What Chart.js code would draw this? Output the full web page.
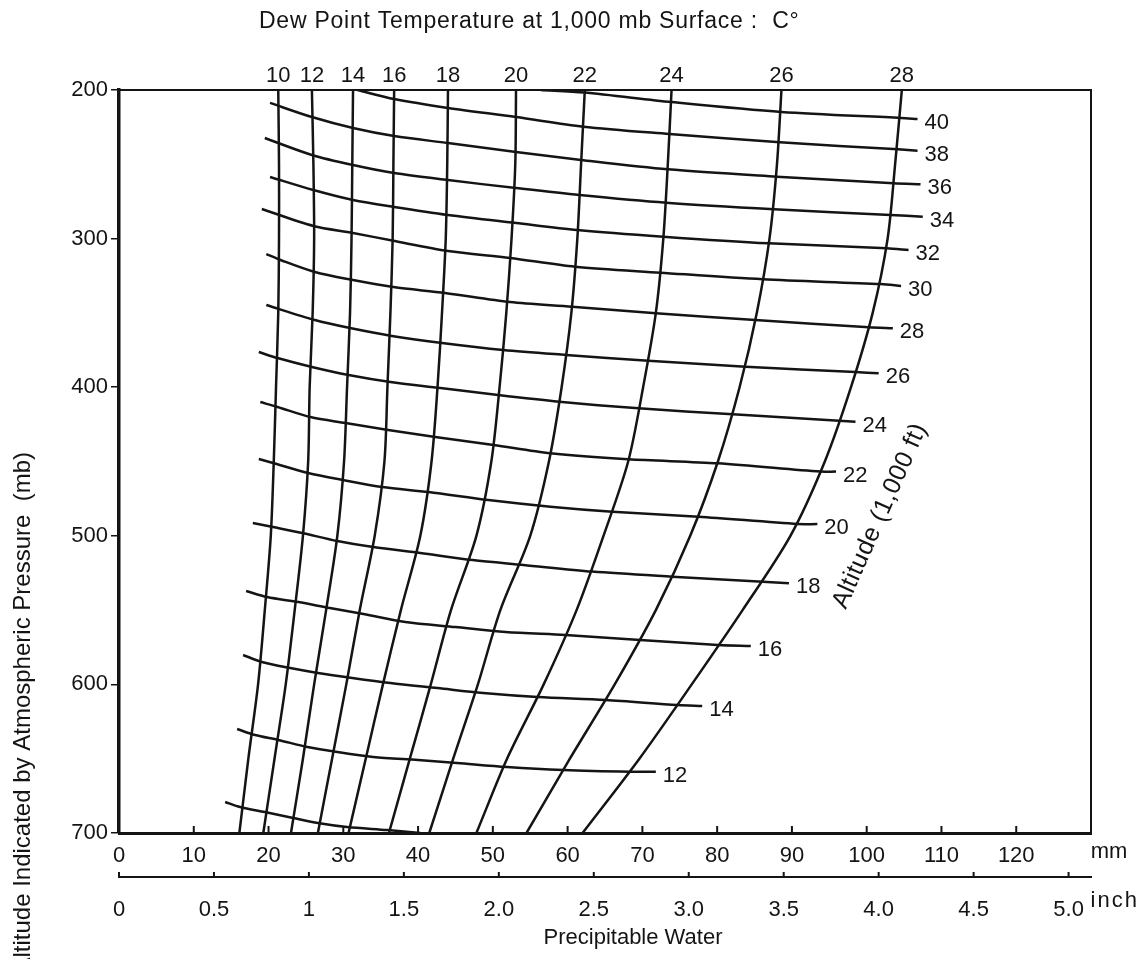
<!DOCTYPE html>
<html>
<head>
<meta charset="utf-8">
<title>Precipitable Water</title>
<script src="https://cdn.jsdelivr.net/npm/chart.js@4.4.1/dist/chart.umd.min.js"></script>
<style>
  html, body { margin: 0; padding: 0; background: #fff; }
</style>
</head>
<body>
<canvas id="myChart" width="1143" height="959"></canvas>
<script>
'use strict';
const ink = '#141414';
const fontFamily = "'Liberation Sans', Arial, sans-serif";

// dew point lines: precipitable water (mm) read at each pressure level (mb)
let dewLevels = [200, 250, 300, 350, 400, 450, 500, 550, 600, 650, 700];
let dewTemps = [10, 12, 14, 16, 18, 20, 22, 24, 26, 28];
let dew10 = [21.3, 21.4, 21.4, 21.3, 21.0, 20.7, 20.3, 19.5, 18.6, 17.3, 16.1];
let dew12 = [25.8, 26.0, 26.1, 25.9, 25.5, 25.3, 24.6, 23.5, 22.3, 20.8, 19.3];
let dew14 = [31.3, 31.2, 31.1, 30.9, 30.5, 30.1, 29.2, 27.7, 26.1, 24.6, 23.0];
let dew16 = [36.8, 36.7, 36.6, 36.3, 35.9, 35.5, 34.2, 32.2, 30.4, 28.5, 26.6];
let dew18 = [44.0, 43.9, 43.7, 43.2, 42.6, 41.8, 40.3, 37.7, 35.3, 33.0, 30.7];
let dew20 = [53.1, 53.0, 52.5, 51.8, 50.9, 49.8, 47.8, 44.4, 41.7, 38.9, 36.1];
let dew22 = [62.3, 61.8, 61.3, 60.5, 59.2, 57.5, 55.0, 51.0, 48.0, 44.7, 41.5];
let dew24 = [73.9, 73.4, 72.8, 71.8, 70.1, 68.1, 64.8, 61.2, 56.8, 51.9, 47.8];
let dew26 = [88.6, 88.0, 87.0, 85.3, 83.0, 80.1, 76.4, 71.8, 66.3, 60.3, 54.5];
let dew28 = [104.7, 103.8, 102.8, 100.8, 97.9, 94.4, 89.8, 83.4, 76.6, 69.6, 62.0];
let dewLines = [dew10, dew12, dew14, dew16, dew18, dew20, dew22, dew24, dew26, dew28];

// altitude lines (1,000 ft): [mm, mb] points
let altFeet = [10, 12, 14, 16, 18, 20, 22, 24, 26, 28, 30, 32, 34, 36, 38, 40];
let alt10 = [[14.2, 679.1], [16.2, 682.5], [19.5, 685.9], [23.3, 689.9], [26.6, 693.3], [30.5, 696.0], [35.9, 698.0], [40.3, 700]];
let alt12 = [[15.8, 630.0], [18.2, 634.1], [21.3, 637.4], [25.2, 642.1], [29.2, 645.5], [34.0, 648.8], [40.0, 650.9], [45.2, 652.9], [51.9, 655.6], [59.4, 657.6], [68.4, 658.8], [71.8, 658.8]];
let alt14 = [[16.6, 580.2], [19.1, 584.9], [22.9, 589.0], [26.6, 592.3], [31.2, 595.7], [36.3, 599.1], [42.6, 602.5], [48.7, 605.8], [56.0, 608.5], [65.1, 610.5], [74.7, 613.9], [78.0, 614.5]];
let alt16 = [[17.0, 537.1], [19.8, 541.2], [24.0, 544.6], [28.2, 548.6], [32.7, 552.6], [38.3, 558.0], [45.0, 561.4], [51.7, 564.7], [59.7, 566.8], [69.7, 570.1], [80.1, 573.5], [84.5, 574.2]];
let alt18 = [[17.9, 491.4], [20.6, 494.1], [24.5, 498.1], [29.2, 503.5], [34.0, 507.6], [40.3, 511.6], [47.3, 516.3], [54.1, 519.6], [63.3, 524.1], [74.0, 527.5], [86.1, 530.9], [89.6, 532.0]];
let alt20 = [[18.7, 448.3], [20.6, 451.0], [25.3, 457.7], [29.9, 462.4], [35.2, 467.2], [41.4, 470.5], [49.4, 475.9], [57.7, 480.4], [66.0, 483.8], [77.5, 487.1], [90.8, 492.1], [93.4, 492.1]];
let alt22 = [[18.9, 410.0], [21.2, 413.3], [25.6, 420.1], [30.3, 424.1], [36.0, 428.8], [42.3, 433.5], [50.1, 438.9], [57.7, 444.5], [68.1, 448.5], [80.1, 451.2], [93.8, 456.8], [95.9, 456.8]];
let alt24 = [[18.7, 376.3], [21.2, 380.4], [25.8, 386.4], [30.7, 391.8], [36.3, 396.5], [43.0, 400.5], [50.7, 405.3], [58.9, 409.8], [69.5, 414.2], [82.1, 418.2], [96.3, 422.5], [98.5, 423.2]];
let alt26 = [[19.7, 344.7], [26.2, 354.8], [30.9, 360.2], [36.5, 365.5], [43.2, 370.3], [51.4, 375.0], [59.8, 378.3], [70.8, 382.2], [83.8, 386.2], [98.5, 389.8], [101.6, 390.6]];
let alt28 = [[19.7, 310.4], [21.6, 314.4], [26.2, 322.5], [31.3, 327.9], [36.7, 332.6], [43.6, 336.6], [52.3, 342.7], [60.6, 345.8], [71.8, 350.3], [85.1, 354.8], [100.3, 359.7], [103.5, 360.4]];
let alt30 = [[19.1, 280.1], [26.0, 291.5], [31.3, 296.2], [36.7, 301.5], [44.0, 308.3], [52.3, 313.0], [61.0, 318.9], [72.4, 322.9], [86.1, 327.4], [101.9, 330.6], [104.6, 331.9]];
let alt32 = [[20.2, 258.5], [26.0, 267.3], [31.3, 274.0], [36.8, 278.7], [44.0, 284.1], [53.1, 289.5], [61.3, 294.2], [72.8, 298.7], [86.9, 303.2], [102.7, 306.5], [105.6, 307.7]];
let alt34 = [[19.5, 232.3], [25.8, 243.7], [31.3, 250.5], [36.8, 255.9], [44.0, 260.6], [53.1, 266.0], [61.6, 270.7], [73.2, 275.9], [87.6, 280.3], [103.2, 284.1], [107.5, 285.3]];
let alt36 = [[20.2, 208.7], [25.8, 218.2], [31.3, 225.6], [36.8, 231.0], [44.0, 235.7], [53.1, 241.7], [61.8, 247.1], [73.4, 253.4], [88.0, 258.3], [103.6, 262.8], [107.2, 263.5]];
let alt38 = [[31.9, 200], [36.8, 206.1], [44.0, 212.1], [53.1, 218.2], [62.1, 224.7], [73.6, 229.6], [88.4, 235.2], [104.2, 239.9], [106.8, 240.8]];
let alt40 = [[56.4, 200], [62.2, 201.7], [73.9, 208.1], [88.6, 214.8], [104.6, 218.8], [106.8, 219.5]];
let altLines = [alt10, alt12, alt14, alt16, alt18, alt20, alt22, alt24, alt26, alt28, alt30, alt32, alt34, alt36, alt38, alt40];

// axes
let mmTicks = [0, 10, 20, 30, 40, 50, 60, 70, 80, 90, 100, 110, 120];
let mmLabels = ['0', '10', '20', '30', '40', '50', '60', '70', '80', '90', '100', '110', '120'];
let inchTicks = [0, 0.5, 1, 1.5, 2, 2.5, 3, 3.5, 4, 4.5, 5];
let inchLabels = ['0', '0.5', '1', '1.5', '2.0', '2.5', '3.0', '3.5', '4.0', '4.5', '5.0'];
let pressureTicks = [200, 300, 400, 500, 600, 700];
let mmMax = 130;

let datasets = [];
for (let i = 0; i < dewTemps.length; i++) {
  datasets.push({
    label: 'Dew point ' + dewTemps[i],
    kind: 'dew',
    tag: dewTemps[i],
    data: dewLevels.map((p, j) => ({ x: dewLines[i][j], y: p })),
  });
}
for (let i = 0; i < altFeet.length; i++) {
  datasets.push({
    label: 'Altitude ' + altFeet[i],
    kind: 'alt',
    tag: altFeet[i],
    data: altLines[i].map(pt => ({ x: pt[0], y: pt[1] })),
  });
}
datasets.forEach(ds => {
  ds.showLine = true;
  ds.borderColor = ink;
  ds.backgroundColor = ink;
  ds.borderWidth = 2.5;
  ds.pointRadius = 0;
  ds.tension = 0.3;
  ds.fill = false;
});

function font(size) {
  return size + 'px ' + fontFamily;
}

const textPlugin = {
  id: 'textPlugin',
  afterDraw(chart) {
    const ctx = chart.ctx;
    const area = chart.chartArea;
    const xs = chart.scales.x;
    const xi = chart.scales.xInch;
    ctx.save();
    ctx.fillStyle = ink;
    ctx.strokeStyle = ink;

    // top and right frame
    ctx.lineWidth = 2;
    ctx.beginPath();
    ctx.moveTo(area.left, area.top);
    ctx.lineTo(area.right, area.top);
    ctx.lineTo(area.right, area.bottom);
    ctx.stroke();

    // tick marks pointing up on both bottom scales
    ctx.beginPath();
    mmTicks.forEach(v => {
      const px = xs.getPixelForValue(v);
      ctx.moveTo(px, area.bottom);
      ctx.lineTo(px, area.bottom - 7);
    });
    inchTicks.forEach(v => {
      const px = xi.getPixelForValue(v);
      ctx.moveTo(px, xi.top);
      ctx.lineTo(px, xi.top - 5);
    });
    ctx.stroke();

    // units
    ctx.font = font(22);
    ctx.textBaseline = 'middle';
    ctx.textAlign = 'center';
    ctx.fillText('mm', area.right + 18, area.bottom + 19);
    ctx.save();
    ctx.textAlign = 'left';
    ctx.letterSpacing = '2px';
    ctx.fillText('inch', xi.getPixelForValue(5) + 22, xi.top + 24);
    ctx.restore();

    // line labels
    chart.data.datasets.forEach((ds, i) => {
      const pts = chart.getDatasetMeta(i).data;
      if (ds.kind === 'dew') {
        ctx.textAlign = 'center';
        ctx.fillText(String(ds.tag), pts[0].x, area.top - 14);
      } else if (ds.tag !== 10) {
        const end = pts[pts.length - 1];
        ctx.textAlign = 'left';
        ctx.fillText(String(ds.tag), end.x + 7, end.y + 4);
      }
    });

    // titles
    ctx.save();
    ctx.font = font(23);
    ctx.letterSpacing = '0.75px';
    ctx.textAlign = 'left';
    ctx.fillText('Dew Point Temperature at 1,000 mb Surface :  C\u00B0', 259, 22);
    ctx.restore();

    ctx.font = font(22);
    ctx.textAlign = 'center';
    ctx.fillText('Precipitable Water', 633, 938);

    ctx.save();
    ctx.translate(880, 516);
    ctx.rotate(-66 * Math.PI / 180);
    ctx.font = font(25);
    ctx.letterSpacing = '0.5px';
    ctx.fillText('Altitude (1,000 ft)', 0, 0);
    ctx.restore();

    ctx.save();
    ctx.translate(23, 452);
    ctx.rotate(-Math.PI / 2);
    ctx.font = font(24);
    ctx.textAlign = 'right';
    ctx.fillText('Altitude Indicated by Atmospheric Pressure  (mb)', 0, 0);
    ctx.restore();

    ctx.restore();
  }
};

const ctx = document.getElementById('myChart').getContext('2d');
const myChart = new Chart(ctx, {
  type: 'scatter',
  data: { datasets: datasets },
  options: {
    responsive: false,
    animation: false,
    devicePixelRatio: 1,
    layout: { padding: { top: 90, right: 52, bottom: 0, left: 0 } },
    plugins: {
      legend: { display: false },
      tooltip: { enabled: false },
      title: { display: false },
    },
    scales: {
      x: {
        type: 'linear',
        position: 'bottom',
        weight: 0,
        min: 0,
        max: mmMax,
        afterBuildTicks: scale => { scale.ticks = mmTicks.map(v => ({ value: v })); },
        afterFit: scale => { scale.height = 44; },
        ticks: {
          autoSkip: false,
          maxRotation: 0,
          padding: 2,
          color: ink,
          font: { size: 22, family: fontFamily },
          callback: (v, i) => mmLabels[i],
        },
        grid: { display: false },
        border: { display: true, color: ink, width: 3 },
      },
      xInch: {
        type: 'linear',
        position: 'bottom',
        weight: 1,
        min: 0,
        max: mmMax / 25.4,
        afterBuildTicks: scale => { scale.ticks = inchTicks.map(v => ({ value: v })); },
        afterFit: scale => { scale.height = 82; },
        ticks: {
          autoSkip: false,
          maxRotation: 0,
          padding: 12,
          color: ink,
          font: { size: 22, family: fontFamily },
          callback: (v, i) => inchLabels[i],
        },
        grid: { display: false },
        border: { display: true, color: ink, width: 2 },
      },
      y: {
        type: 'linear',
        reverse: true,
        min: 200,
        max: 700,
        afterBuildTicks: scale => { scale.ticks = pressureTicks.map(v => ({ value: v })); },
        afterFit: scale => { scale.width = 119; },
        ticks: {
          padding: 3,
          color: ink,
          font: { size: 22, family: fontFamily },
        },
        grid: { display: true, drawOnChartArea: false, drawTicks: true, tickLength: 8, color: ink, lineWidth: 1.5 },
        border: { display: true, color: ink, width: 3.5 },
      },
    },
  },
  plugins: [textPlugin],
});
</script>
</body>
</html>
